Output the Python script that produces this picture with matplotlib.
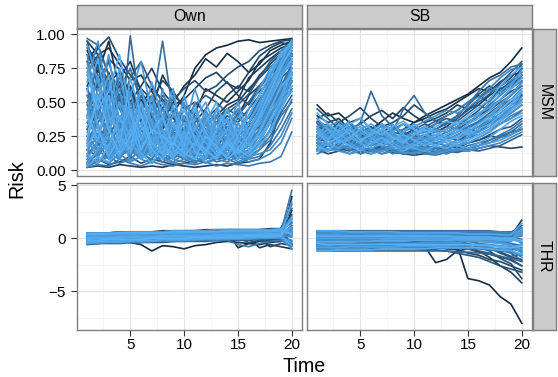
import numpy as np
import matplotlib.pyplot as plt
from matplotlib.colors import LinearSegmentedColormap

plt.rcParams['font.family'] = ['Liberation Sans', 'DejaVu Sans']

time = np.arange(1, 21)
col_labels = ['Own', 'SB']
row_labels = ['MSM', 'THR']

# MSM risk, in percent, one row per subject (dark -> light)
own_msm = [
    [88, 72, 95, 60, 45, 52, 38, 30, 42, 55, 75, 85, 90, 92, 95, 96, 94, 95, 96, 97],
    [80, 92, 70, 55, 62, 40, 48, 35, 50, 62, 70, 82, 76, 86, 80, 72, 78, 88, 92, 95],
    [95, 85, 90, 78, 66, 70, 58, 45, 38, 30, 42, 60, 55, 50, 58, 66, 80, 85, 90, 93],
    [70, 60, 82, 74, 55, 48, 60, 52, 44, 36, 28, 33, 40, 48, 52, 68, 75, 82, 88, 96],
    [62, 78, 55, 68, 80, 58, 45, 70, 55, 48, 40, 30, 26, 35, 40, 55, 62, 70, 78, 85],
    [2, 3, 2, 4, 3, 2, 3, 2, 4, 3, 2, 3, 4, 3, 5, 6, 8, 20, 45, 72],
    [90, 80, 65, 72, 50, 62, 75, 58, 48, 52, 60, 68, 72, 64, 60, 72, 84, 90, 94, 92],
    [55, 45, 60, 38, 50, 42, 30, 35, 28, 22, 30, 38, 45, 55, 62, 58, 70, 78, 86, 90],
    [75, 90, 98, 82, 70, 60, 52, 66, 58, 45, 50, 42, 38, 45, 50, 60, 68, 76, 82, 88],
    [40, 52, 35, 48, 30, 38, 25, 32, 40, 28, 35, 45, 58, 65, 55, 48, 60, 72, 80, 84],
    [5, 8, 4, 6, 10, 5, 8, 6, 4, 5, 7, 6, 8, 10, 12, 9, 15, 30, 55, 80],
    [85, 70, 58, 65, 48, 55, 40, 46, 52, 60, 66, 58, 62, 70, 76, 80, 88, 92, 95, 96],
    [60, 40, 72, 50, 35, 45, 55, 40, 30, 25, 20, 28, 35, 30, 42, 50, 58, 66, 75, 86],
    [92, 75, 50, 62, 40, 30, 45, 38, 25, 30, 18, 22, 30, 40, 35, 45, 55, 70, 82, 90],
    [30, 55, 42, 25, 60, 35, 28, 45, 32, 20, 26, 35, 25, 30, 38, 34, 48, 60, 72, 80],
    [48, 30, 25, 40, 22, 30, 18, 25, 35, 40, 32, 25, 20, 28, 22, 30, 40, 55, 68, 75],
    [20, 35, 50, 30, 45, 25, 38, 22, 28, 15, 22, 30, 18, 25, 20, 26, 35, 48, 62, 70],
    [72, 85, 60, 45, 68, 80, 62, 50, 42, 35, 48, 55, 50, 42, 48, 56, 68, 80, 88, 94],
    [10, 20, 15, 35, 25, 40, 30, 20, 15, 25, 18, 12, 20, 15, 18, 25, 32, 45, 58, 66],
    [35, 25, 45, 20, 30, 15, 22, 30, 20, 12, 15, 25, 30, 22, 28, 35, 45, 62, 78, 88],
    [95, 60, 80, 52, 36, 48, 32, 26, 34, 20, 28, 18, 24, 32, 26, 40, 52, 64, 76, 82],
    [15, 10, 22, 12, 18, 25, 15, 10, 18, 22, 12, 16, 10, 15, 20, 18, 28, 40, 52, 60],
    [50, 65, 38, 55, 42, 30, 50, 36, 22, 30, 40, 30, 22, 35, 45, 38, 50, 65, 80, 92],
    [25, 15, 30, 18, 12, 20, 35, 25, 12, 18, 10, 15, 12, 10, 15, 12, 20, 28, 42, 55],
    [80, 55, 40, 60, 75, 50, 40, 55, 45, 38, 30, 40, 35, 45, 40, 50, 62, 72, 85, 92],
    [97, 92, 70, 45, 30, 55, 40, 28, 20, 35, 25, 18, 28, 20, 25, 32, 42, 58, 72, 85],
    [5, 12, 30, 18, 99, 40, 25, 15, 10, 20, 12, 8, 15, 10, 12, 18, 25, 40, 55, 65],
    [8, 5, 15, 25, 12, 20, 45, 95, 40, 25, 15, 22, 12, 18, 10, 15, 22, 35, 48, 58],
    [40, 85, 60, 30, 20, 35, 25, 18, 30, 45, 28, 15, 22, 35, 25, 20, 30, 45, 62, 78],
    [12, 20, 8, 15, 30, 10, 18, 25, 12, 8, 18, 30, 15, 8, 12, 10, 15, 25, 40, 50],
    [3, 6, 10, 5, 8, 15, 6, 10, 20, 8, 5, 10, 6, 8, 5, 8, 10, 18, 30, 45],
    [30, 18, 40, 55, 28, 15, 22, 35, 20, 28, 40, 20, 12, 25, 18, 28, 38, 55, 70, 85],
    [60, 30, 20, 12, 25, 18, 10, 15, 28, 18, 10, 15, 25, 18, 30, 22, 35, 50, 65, 95],
    [18, 40, 25, 10, 15, 8, 20, 12, 8, 15, 22, 12, 8, 12, 8, 12, 18, 30, 45, 60],
    [2, 4, 3, 8, 5, 3, 6, 4, 3, 5, 4, 6, 3, 5, 4, 3, 5, 6, 10, 28],
    [45, 25, 12, 20, 10, 25, 15, 8, 12, 30, 20, 10, 18, 12, 20, 15, 25, 40, 58, 72],
    [22, 10, 35, 15, 40, 12, 8, 20, 15, 10, 8, 20, 35, 15, 10, 20, 30, 48, 62, 75],
    [6, 15, 8, 22, 10, 30, 12, 6, 10, 12, 6, 8, 12, 25, 15, 10, 15, 22, 35, 52],
    [35, 50, 22, 12, 18, 10, 28, 45, 25, 15, 20, 38, 20, 10, 22, 30, 42, 60, 75, 90],
    [10, 6, 12, 8, 20, 8, 5, 12, 8, 6, 10, 5, 8, 6, 10, 6, 8, 12, 20, 38],
    [55, 30, 15, 25, 12, 15, 10, 20, 35, 22, 12, 25, 15, 20, 15, 25, 35, 52, 70, 80],
    [15, 25, 48, 35, 20, 12, 18, 10, 6, 12, 25, 15, 10, 8, 15, 12, 20, 35, 50, 65],
    [4, 8, 5, 12, 6, 10, 15, 8, 5, 8, 12, 8, 20, 12, 6, 10, 12, 15, 25, 42],
    [28, 12, 20, 8, 35, 20, 12, 28, 18, 10, 6, 12, 8, 15, 28, 40, 55, 70, 82, 95],
    [50, 20, 65, 30, 15, 45, 20, 60, 25, 10, 35, 15, 40, 20, 12, 30, 25, 45, 60, 70],
    [85, 40, 25, 70, 35, 20, 55, 15, 30, 50, 20, 35, 10, 25, 45, 20, 35, 55, 68, 88],
    [10, 45, 20, 8, 50, 25, 10, 35, 55, 20, 8, 28, 45, 18, 8, 25, 45, 65, 80, 92],
    [65, 95, 45, 20, 38, 60, 30, 18, 42, 25, 50, 22, 15, 38, 25, 15, 30, 50, 72, 85],
    [25, 8, 40, 60, 20, 12, 38, 22, 8, 40, 18, 45, 25, 8, 35, 18, 28, 42, 55, 62],
    [38, 70, 30, 15, 55, 80, 42, 25, 15, 30, 60, 35, 20, 45, 30, 40, 55, 70, 88, 95],
    [8, 22, 12, 30, 6, 18, 35, 12, 25, 8, 15, 40, 18, 30, 12, 8, 15, 30, 48, 68],
    [70, 50, 85, 35, 58, 25, 15, 40, 20, 55, 30, 12, 35, 22, 40, 30, 42, 58, 75, 90],
    [15, 35, 8, 18, 42, 15, 55, 30, 12, 22, 45, 25, 10, 20, 35, 22, 40, 58, 72, 80],
    [92, 65, 35, 48, 20, 40, 22, 50, 32, 18, 12, 30, 22, 12, 20, 35, 50, 68, 85, 94],
    [45, 15, 28, 50, 35, 8, 25, 15, 42, 30, 15, 8, 28, 38, 18, 12, 20, 38, 55, 75],
    [20, 60, 45, 75, 30, 50, 18, 40, 60, 15, 38, 50, 30, 15, 25, 45, 60, 75, 85, 92],
    [5, 15, 25, 10, 22, 8, 14, 30, 10, 18, 8, 15, 25, 30, 20, 35, 48, 62, 78, 88],
    [78, 30, 15, 40, 25, 60, 35, 10, 25, 15, 30, 42, 20, 30, 50, 25, 35, 55, 70, 78],
    [32, 48, 70, 25, 12, 30, 65, 38, 18, 35, 25, 10, 45, 35, 15, 30, 45, 62, 80, 96],
    [12, 5, 18, 40, 15, 35, 10, 22, 48, 12, 32, 20, 12, 18, 30, 18, 25, 35, 50, 58],
    [58, 82, 40, 28, 45, 22, 48, 20, 10, 25, 18, 35, 50, 25, 12, 20, 38, 52, 68, 82],
    [3, 10, 6, 15, 30, 12, 5, 18, 8, 28, 14, 6, 10, 22, 8, 14, 22, 35, 52, 72],
    [40, 22, 55, 18, 68, 40, 20, 12, 35, 18, 45, 28, 15, 10, 25, 40, 55, 72, 86, 93],
    [18, 30, 10, 25, 15, 50, 28, 40, 15, 10, 20, 12, 30, 45, 22, 15, 28, 45, 62, 70],
    [72, 45, 58, 85, 42, 15, 30, 25, 18, 45, 22, 15, 8, 20, 12, 25, 40, 58, 76, 90],
    [25, 55, 30, 12, 25, 42, 15, 8, 20, 12, 8, 25, 18, 8, 15, 10, 18, 28, 45, 62],
]

sb_msm = [
    [48, 40, 42, 35, 38, 30, 36, 42, 38, 35, 40, 44, 48, 52, 56, 62, 68, 72, 80, 90],
    [35, 30, 28, 32, 25, 28, 22, 26, 30, 35, 38, 42, 45, 50, 55, 60, 58, 65, 70, 72],
    [25, 28, 22, 20, 24, 18, 22, 20, 18, 22, 25, 28, 32, 38, 45, 48, 55, 60, 62, 70],
    [40, 35, 38, 30, 34, 40, 44, 38, 46, 40, 35, 38, 42, 48, 45, 52, 60, 56, 65, 75],
    [20, 15, 18, 22, 16, 14, 18, 15, 12, 14, 16, 14, 18, 16, 20, 22, 25, 24, 28, 30],
    [30, 25, 32, 28, 26, 24, 28, 32, 28, 24, 26, 30, 35, 40, 48, 55, 50, 62, 68, 78],
    [15, 12, 14, 18, 12, 15, 12, 14, 12, 11, 12, 14, 12, 15, 14, 16, 18, 17, 16, 17],
    [38, 42, 35, 40, 46, 38, 32, 35, 40, 48, 42, 36, 40, 44, 50, 56, 62, 58, 66, 68],
    [28, 22, 25, 20, 22, 25, 20, 18, 22, 20, 24, 22, 26, 30, 35, 40, 45, 52, 58, 62],
    [22, 26, 20, 24, 28, 22, 25, 22, 20, 24, 20, 22, 24, 22, 26, 30, 35, 40, 45, 55],
    [32, 28, 35, 30, 25, 30, 34, 28, 26, 30, 34, 30, 28, 32, 38, 44, 52, 60, 64, 70],
    [18, 20, 16, 14, 18, 20, 16, 14, 16, 18, 14, 16, 15, 18, 20, 22, 26, 30, 32, 38],
    [45, 38, 30, 34, 28, 32, 26, 30, 34, 28, 30, 34, 38, 36, 42, 48, 44, 50, 55, 65],
    [26, 22, 28, 24, 20, 18, 22, 26, 24, 20, 18, 20, 22, 26, 30, 28, 34, 38, 42, 48],
    [36, 32, 28, 26, 30, 28, 24, 22, 26, 28, 32, 36, 34, 38, 44, 50, 56, 64, 72, 80],
    [14, 18, 15, 12, 14, 12, 15, 13, 12, 14, 13, 12, 14, 13, 15, 14, 16, 18, 22, 26],
    [24, 20, 22, 26, 22, 28, 24, 20, 22, 26, 22, 24, 28, 32, 30, 36, 42, 48, 52, 58],
    [30, 34, 26, 22, 25, 22, 20, 24, 20, 18, 22, 20, 18, 22, 24, 26, 30, 34, 38, 44],
    [20, 25, 30, 28, 35, 58, 40, 32, 28, 24, 20, 22, 25, 28, 32, 35, 40, 38, 45, 52],
    [28, 24, 20, 22, 18, 20, 24, 28, 45, 55, 42, 36, 32, 30, 34, 40, 48, 55, 62, 68],
    [18, 15, 20, 16, 14, 16, 18, 15, 14, 12, 14, 16, 14, 15, 18, 20, 22, 25, 28, 34],
    [34, 28, 24, 26, 22, 24, 20, 22, 24, 26, 28, 30, 34, 40, 48, 58, 66, 70, 76, 78],
    [22, 18, 24, 20, 25, 22, 18, 20, 18, 16, 18, 20, 22, 24, 28, 32, 38, 44, 50, 56],
    [16, 20, 18, 22, 18, 14, 16, 18, 15, 14, 12, 11, 13, 14, 16, 18, 22, 26, 30, 36],
    [25, 30, 26, 30, 28, 26, 30, 26, 22, 20, 24, 26, 24, 28, 32, 36, 40, 48, 55, 62],
    [30, 26, 22, 24, 20, 22, 25, 22, 18, 20, 18, 16, 18, 20, 24, 30, 38, 46, 52, 60],
    [12, 15, 18, 15, 12, 14, 16, 12, 14, 16, 12, 13, 15, 14, 16, 18, 20, 24, 26, 30],
    [24, 22, 26, 30, 34, 28, 24, 26, 30, 32, 28, 34, 40, 44, 50, 54, 60, 68, 74, 76],
    [20, 18, 15, 18, 20, 16, 14, 16, 18, 15, 16, 18, 16, 18, 20, 24, 28, 34, 40, 44],
    [35, 30, 32, 28, 26, 30, 28, 25, 24, 28, 30, 28, 30, 34, 38, 42, 46, 52, 60, 66],
    [15, 14, 16, 18, 16, 15, 12, 14, 12, 13, 15, 14, 12, 15, 14, 16, 18, 20, 24, 28],
    [22, 26, 22, 18, 20, 22, 26, 24, 20, 22, 24, 20, 22, 24, 26, 30, 34, 40, 46, 50],
    [28, 32, 36, 30, 26, 28, 32, 30, 28, 32, 36, 40, 44, 42, 46, 52, 58, 62, 66, 72],
    [18, 22, 20, 16, 18, 20, 18, 16, 20, 18, 16, 14, 16, 18, 22, 26, 30, 36, 42, 48],
    [26, 24, 28, 24, 22, 26, 22, 20, 22, 24, 22, 24, 22, 26, 28, 32, 36, 42, 48, 54],
    [14, 16, 14, 12, 15, 12, 14, 16, 13, 12, 14, 12, 14, 16, 14, 18, 20, 22, 26, 32],
    [20, 28, 24, 18, 26, 30, 22, 16, 24, 28, 20, 18, 22, 20, 24, 28, 32, 38, 45, 52],
    [32, 24, 30, 36, 28, 22, 30, 34, 26, 22, 26, 30, 28, 32, 36, 40, 50, 58, 64, 70],
    [16, 22, 28, 20, 16, 22, 30, 26, 18, 16, 20, 24, 20, 18, 20, 24, 28, 34, 38, 42],
    [26, 34, 22, 28, 32, 26, 20, 28, 34, 30, 22, 26, 30, 36, 34, 42, 46, 56, 62, 74],
    [22, 18, 26, 32, 24, 18, 24, 20, 16, 20, 26, 22, 18, 22, 28, 26, 30, 36, 44, 58],
    [38, 30, 26, 22, 30, 34, 28, 22, 28, 34, 28, 22, 26, 30, 28, 34, 40, 48, 56, 64],
    [14, 20, 16, 24, 20, 16, 20, 24, 22, 16, 14, 18, 22, 18, 16, 20, 24, 30, 36, 40],
    [30, 22, 34, 26, 20, 28, 34, 28, 22, 26, 32, 28, 24, 28, 34, 38, 44, 52, 60, 68],
    [24, 30, 20, 24, 30, 24, 18, 22, 26, 22, 18, 22, 26, 30, 26, 30, 34, 40, 48, 60],
    [18, 14, 22, 18, 14, 20, 24, 18, 14, 18, 22, 18, 16, 20, 22, 26, 30, 36, 44, 50],
    [42, 34, 28, 34, 38, 30, 26, 32, 36, 30, 26, 32, 36, 34, 40, 46, 52, 62, 70, 76],
    [28, 20, 24, 30, 22, 26, 30, 24, 20, 26, 30, 26, 22, 24, 30, 34, 38, 44, 52, 58],
]

# THR risk score, one row per subject (dark -> light)
own_thr = [
    [-0.2, -0.2, -0.3, -0.3, -0.4, -0.6, -1.2, -0.7, -0.8, -1.0, -0.7, -0.6, -0.4, -0.3, -0.4, -0.5, -0.6, -0.4, -0.3, 3.9],
    [0.3, 0.3, 0.4, 0.4, 0.4, 0.5, 0.5, 0.5, 0.6, 0.6, 0.6, 0.7, 0.7, 0.7, -0.9, -0.5, -0.3, -0.2, 0.0, 2.6],
    [-0.4, -0.4, -0.3, -0.3, -0.3, -0.2, -0.2, -0.2, -0.1, -0.1, -0.1, 0.0, 0.0, 0.0, 0.1, 0.0, -0.9, -0.6, -0.8, -1.0],
    [0.5, 0.5, 0.5, 0.6, 0.6, 0.6, 0.6, 0.7, 0.7, 0.7, 0.7, 0.8, 0.8, 0.8, 0.8, 0.8, 0.8, 0.9, 0.9, 3.2],
    [0.1, 0.1, 0.1, 0.2, 0.2, 0.2, 0.2, 0.3, 0.3, 0.3, 0.3, 0.3, 0.4, 0.4, 0.4, 0.4, 0.5, 0.5, 0.5, 1.8],
    [-0.5, -0.5, -0.4, -0.4, -0.4, -0.3, -0.3, -0.3, -0.3, -0.2, -0.2, -0.2, -0.2, -0.1, -0.1, -0.1, -0.1, -0.8, -0.5, -0.7],
    [0.2, 0.2, 0.3, 0.3, 0.3, 0.3, 0.4, 0.4, 0.4, 0.4, 0.5, 0.5, 0.5, 0.5, 0.6, 0.6, 0.6, 0.6, 0.7, 2.2],
    [-0.1, -0.1, 0.0, 0.0, 0.0, 0.0, 0.1, 0.1, 0.1, 0.1, 0.1, 0.2, 0.2, 0.2, 0.2, 0.3, 0.3, 0.3, 0.3, 1.2],
    [0.4, 0.4, 0.4, 0.4, 0.5, 0.5, 0.5, 0.5, 0.5, 0.6, 0.6, 0.6, 0.6, 0.6, 0.7, 0.7, 0.7, 0.7, 0.8, -0.6],
    [-0.3, -0.3, -0.2, -0.2, -0.2, -0.2, -0.1, -0.1, -0.1, -0.1, 0.0, 0.0, 0.0, 0.0, 0.0, -0.4, -0.2, -0.3, -0.2, 0.6],
    [0.3, 0.3, 0.3, 0.4, 0.4, 0.4, 0.4, 0.5, 0.5, 0.5, 0.5, 0.6, 0.6, 0.6, 0.6, 0.6, 0.7, 0.7, 0.7, 1.5],
    [-0.6, -0.5, -0.5, -0.5, -0.4, -0.4, -0.4, -0.4, -0.3, -0.3, -0.3, -0.3, -0.2, -0.2, -0.2, -0.2, -0.1, -0.1, -0.1, 0.3],
    [0.0, 0.0, 0.1, 0.1, 0.1, 0.1, 0.2, 0.2, 0.2, 0.2, 0.3, 0.3, 0.3, 0.3, 0.4, 0.4, 0.4, 0.4, 0.5, 0.9],
    [0.5, 0.5, 0.5, 0.5, 0.6, 0.6, 0.6, 0.6, 0.6, 0.7, 0.7, 0.7, 0.7, 0.8, 0.8, 0.8, 0.8, 0.8, 0.9, 2.8],
    [-0.2, -0.2, -0.2, -0.1, -0.1, -0.1, -0.1, 0.0, 0.0, 0.0, 0.0, 0.1, 0.1, 0.1, 0.1, 0.1, 0.2, 0.2, 0.2, -0.3],
    [0.2, 0.2, 0.2, 0.2, 0.3, 0.3, 0.3, 0.3, 0.3, 0.4, 0.4, 0.4, 0.4, 0.4, 0.5, 0.5, 0.5, 0.5, 0.5, 1.0],
    [-0.4, -0.4, -0.4, -0.3, -0.3, -0.3, -0.3, -0.3, -0.2, -0.2, -0.2, -0.2, -0.1, -0.1, -0.1, -0.1, -0.1, 0.0, 0.0, -0.5],
    [0.1, 0.1, 0.2, 0.2, 0.2, 0.2, 0.2, 0.3, 0.3, 0.3, 0.3, 0.4, 0.4, 0.4, 0.4, 0.4, 0.5, 0.5, 0.5, 0.4],
    [0.4, 0.4, 0.5, 0.5, 0.5, 0.5, 0.5, 0.6, 0.6, 0.6, 0.6, 0.7, 0.7, 0.7, 0.7, 0.7, 0.8, 0.8, 0.8, 0.6],
    [-0.1, -0.1, -0.1, 0.0, 0.0, 0.0, 0.0, 0.0, 0.1, 0.1, 0.1, 0.1, 0.1, 0.2, 0.2, 0.2, 0.2, 0.2, 0.3, 0.8],
    [0.3, 0.3, 0.3, 0.3, 0.4, 0.4, 0.4, 0.4, 0.4, 0.5, 0.5, 0.5, 0.5, 0.5, 0.6, 0.6, 0.6, 0.6, 0.6, 4.5],
    [-0.5, -0.5, -0.4, -0.4, -0.4, -0.4, -0.3, -0.3, -0.3, -0.3, -0.2, -0.2, -0.2, -0.2, -0.6, -0.8, -0.5, -0.3, -0.2, -0.8],
    [0.0, 0.1, 0.1, 0.1, 0.1, 0.2, 0.2, 0.2, 0.2, 0.2, 0.3, 0.3, 0.3, 0.3, 0.3, 0.4, 0.4, 0.4, 0.4, 0.2],
    [0.5, 0.5, 0.5, 0.6, 0.6, 0.6, 0.6, 0.6, 0.7, 0.7, 0.7, 0.7, 0.8, 0.8, 0.8, 0.7, 0.7, 0.8, 0.8, 1.4],
    [-0.3, -0.3, -0.3, -0.2, -0.2, -0.2, -0.2, -0.1, -0.1, -0.1, -0.1, 0.0, 0.0, 0.0, 0.0, 0.0, 0.1, 0.1, 0.1, -0.2],
    [0.2, 0.2, 0.2, 0.3, 0.3, 0.3, 0.3, 0.3, 0.4, 0.4, 0.4, 0.4, 0.5, 0.5, 0.5, 0.5, 0.5, 0.6, 0.6, 0.5],
    [-0.2, -0.1, -0.1, -0.1, -0.1, 0.0, 0.0, 0.0, 0.0, 0.1, 0.1, 0.1, 0.1, 0.1, 0.2, 0.2, 0.2, 0.2, 0.3, 0.1],
    [0.4, 0.4, 0.4, 0.4, 0.4, 0.5, 0.5, 0.5, 0.5, 0.5, 0.6, 0.6, 0.6, 0.6, 0.6, 0.7, 0.7, 0.7, 0.7, 2.0],
    [-0.4, -0.4, -0.3, -0.3, -0.3, -0.3, -0.3, -0.2, -0.2, -0.2, -0.2, -0.1, -0.1, -0.1, -0.1, -0.1, 0.0, 0.0, 0.0, -1.0],
    [0.1, 0.1, 0.1, 0.2, 0.2, 0.2, 0.2, 0.2, 0.3, 0.3, 0.3, 0.3, 0.3, 0.4, 0.4, 0.4, 0.4, 0.5, 0.5, 0.7],
    [-0.3, -0.3, -0.2, -0.2, -0.2, -0.1, -0.1, -0.1, 0.0, 0.0, 0.0, 0.1, 0.1, 0.1, 0.2, 0.2, 0.2, 0.3, 0.3, 0.6],
    [0.5, 0.5, 0.5, 0.5, 0.6, 0.6, 0.6, 0.6, 0.7, 0.7, 0.7, 0.7, 0.8, 0.8, 0.8, 0.8, 0.8, 0.8, 0.9, 1.6],
    [-0.5, -0.4, -0.4, -0.4, -0.3, -0.3, -0.3, -0.2, -0.2, -0.2, -0.1, -0.1, -0.1, 0.0, 0.0, 0.0, 0.1, 0.1, 0.1, -0.4],
    [0.1, 0.2, 0.2, 0.2, 0.2, 0.3, 0.3, 0.3, 0.3, 0.4, 0.4, 0.4, 0.4, 0.5, 0.5, 0.5, 0.5, 0.6, 0.6, 0.9],
    [-0.1, 0.0, 0.0, 0.0, 0.1, 0.1, 0.1, 0.1, 0.2, 0.2, 0.2, 0.2, 0.3, 0.3, 0.3, 0.3, 0.4, 0.4, 0.4, 1.1],
    [0.3, 0.3, 0.4, 0.4, 0.4, 0.4, 0.5, 0.5, 0.5, 0.5, 0.6, 0.6, 0.6, 0.6, 0.7, 0.7, 0.7, 0.7, 0.7, 0.5],
    [-0.4, -0.3, -0.3, -0.3, -0.2, -0.2, -0.2, -0.1, -0.1, -0.1, -0.1, 0.0, 0.0, 0.0, 0.0, 0.1, 0.1, 0.1, 0.2, -0.7],
    [0.0, 0.0, 0.0, 0.1, 0.1, 0.1, 0.1, 0.2, 0.2, 0.2, 0.2, 0.2, 0.3, 0.3, 0.3, 0.3, 0.3, 0.4, 0.4, 3.4],
    [0.4, 0.4, 0.4, 0.5, 0.5, 0.5, 0.5, 0.5, 0.6, 0.6, 0.6, 0.6, 0.6, 0.7, 0.7, 0.7, 0.7, 0.7, 0.8, 0.3],
    [-0.2, -0.2, -0.1, -0.1, -0.1, -0.1, 0.0, 0.0, 0.0, 0.0, 0.1, 0.1, 0.1, 0.1, 0.1, 0.2, 0.2, 0.2, 0.2, 1.9],
]

sb_thr = [
    [-0.5, -0.5, -0.5, -0.5, -0.5, -0.5, -0.5, -0.5, -0.5, -0.5, -0.5, -0.6, -0.6, -0.7, -3.8, -4.0, -4.4, -5.5, -6.2, -8.0],
    [-0.6, -0.6, -0.6, -0.6, -0.6, -0.6, -0.6, -0.6, -0.6, -0.6, -0.8, -2.3, -2.0, -1.2, -1.0, -1.3, -1.5, -1.8, -2.0, -2.6],
    [0.3, 0.3, 0.3, 0.3, 0.3, 0.3, 0.3, 0.3, 0.3, 0.3, 0.3, 0.3, 0.4, 0.5, 0.4, 0.3, 0.3, 0.3, 0.2, 1.7],
    [-0.2, -0.2, -0.2, -0.2, -0.2, -0.2, -0.2, -0.2, -0.2, -0.2, -0.3, -0.3, -0.4, -0.5, -0.8, -1.2, -1.8, -2.6, -3.2, -4.2],
    [-0.8, -0.8, -0.8, -0.8, -0.8, -0.8, -0.8, -0.8, -0.8, -0.8, -0.8, -0.9, -1.0, -1.1, -1.4, -1.6, -2.0, -2.2, -2.6, -3.0],
    [0.5, 0.5, 0.5, 0.5, 0.5, 0.5, 0.5, 0.5, 0.5, 0.5, 0.5, 0.5, 0.5, 0.5, 0.5, 0.5, 0.4, 0.4, 0.3, 0.6],
    [-0.1, -0.1, -0.1, -0.1, -0.1, -0.1, -0.1, -0.1, -0.1, -0.1, -0.1, -0.2, -0.2, -0.3, -0.5, -0.8, -1.2, -1.9, -2.4, -3.8],
    [0.1, 0.1, 0.1, 0.1, 0.1, 0.1, 0.1, 0.1, 0.1, 0.1, 0.1, 0.1, 0.1, 0.0, -0.2, -0.5, -0.9, -1.4, -1.8, -2.0],
    [-1.0, -1.0, -1.0, -1.0, -1.0, -1.0, -1.0, -1.0, -1.0, -1.0, -1.1, -1.1, -1.2, -1.4, -1.6, -1.8, -2.2, -2.6, -2.9, -3.2],
    [0.6, 0.6, 0.6, 0.6, 0.6, 0.6, 0.6, 0.6, 0.6, 0.6, 0.6, 0.6, 0.6, 0.6, 0.6, 0.6, 0.6, 0.5, 0.5, 1.2],
    [-0.3, -0.3, -0.3, -0.3, -0.3, -0.3, -0.3, -0.3, -0.3, -0.3, -0.3, -0.3, -0.4, -0.5, -0.6, -0.8, -1.0, -1.3, -1.7, -1.5],
    [0.2, 0.2, 0.2, 0.2, 0.2, 0.2, 0.2, 0.2, 0.2, 0.2, 0.2, 0.2, 0.2, 0.2, 0.2, 0.2, 0.1, 0.1, 0.1, 0.4],
    [-0.7, -0.7, -0.7, -0.7, -0.7, -0.7, -0.7, -0.7, -0.7, -0.7, -0.7, -0.8, -0.8, -0.9, -1.0, -1.2, -1.4, -1.7, -2.1, -2.6],
    [0.4, 0.4, 0.4, 0.4, 0.4, 0.4, 0.4, 0.4, 0.4, 0.4, 0.4, 0.4, 0.4, 0.4, 0.3, 0.3, 0.3, 0.3, 0.3, -0.4],
    [-0.4, -0.4, -0.4, -0.4, -0.4, -0.4, -0.4, -0.4, -0.4, -0.4, -0.4, -0.4, -0.4, -0.5, -0.6, -0.7, -0.9, -1.1, -1.4, -2.1],
    [0.0, 0.0, 0.0, 0.0, 0.0, 0.0, 0.0, 0.0, 0.0, 0.0, 0.0, 0.0, 0.0, 0.0, 0.0, -0.1, -0.2, -0.3, -0.5, -0.7],
    [-1.2, -1.2, -1.2, -1.2, -1.2, -1.2, -1.2, -1.2, -1.2, -1.2, -1.2, -1.2, -1.2, -1.3, -1.3, -1.4, -1.5, -1.7, -1.9, -2.2],
    [0.7, 0.7, 0.7, 0.7, 0.7, 0.7, 0.7, 0.7, 0.7, 0.7, 0.7, 0.7, 0.7, 0.7, 0.7, 0.7, 0.7, 0.6, 0.6, 0.9],
    [-0.6, -0.6, -0.6, -0.6, -0.6, -0.6, -0.6, -0.6, -0.6, -0.6, -0.5, -0.5, -0.4, 0.1, -0.3, -0.5, -0.6, -0.8, -1.0, -1.2],
    [0.3, 0.3, 0.3, 0.3, 0.3, 0.3, 0.3, 0.3, 0.3, 0.3, 0.3, 0.3, 0.3, 0.3, 0.3, 0.2, 0.2, 0.2, 0.1, -0.1],
    [-0.9, -0.9, -0.9, -0.9, -0.9, -0.9, -0.9, -0.9, -0.9, -0.9, -0.9, -0.9, -0.9, -0.9, -1.0, -1.0, -1.1, -1.2, -1.3, -1.6],
    [0.5, 0.5, 0.5, 0.5, 0.5, 0.5, 0.5, 0.5, 0.5, 0.5, 0.5, 0.5, 0.5, 0.5, 0.5, 0.5, 0.5, 0.5, 0.4, 1.0],
    [-0.2, -0.2, -0.2, -0.2, -0.2, -0.2, -0.2, -0.2, -0.2, -0.2, -0.2, -0.2, -0.1, -0.4, -0.2, -0.3, -0.3, -0.4, -0.5, -0.9],
    [0.1, 0.1, 0.1, 0.1, 0.1, 0.1, 0.1, 0.1, 0.1, 0.1, 0.1, 0.1, 0.1, 0.1, 0.1, 0.1, 0.1, 0.0, 0.0, 0.2],
    [-0.5, -0.5, -0.5, -0.5, -0.5, -0.5, -0.5, -0.5, -0.5, -0.5, -0.5, -0.5, -0.5, -0.5, -0.6, -0.6, -0.7, -0.8, -0.9, -1.3],
    [0.6, 0.6, 0.6, 0.6, 0.6, 0.6, 0.6, 0.6, 0.6, 0.6, 0.6, 0.6, 0.6, 0.6, 0.6, 0.6, 0.6, 0.6, 0.5, 0.3],
    [-0.8, -0.8, -0.8, -0.8, -0.8, -0.8, -0.8, -0.8, -0.8, -0.8, -0.8, -0.8, -0.8, -0.8, -0.8, -0.9, -0.9, -1.0, -1.1, -1.8],
    [0.2, 0.2, 0.2, 0.2, 0.2, 0.2, 0.2, 0.2, 0.2, 0.2, 0.2, 0.2, 0.2, 0.2, 0.2, 0.2, 0.2, 0.1, 0.1, -0.5],
    [-0.1, -0.1, -0.1, -0.1, -0.1, -0.1, -0.1, -0.1, -0.1, -0.1, -0.1, -0.1, -0.1, -0.1, -0.1, -0.1, -0.2, -0.2, -0.3, 0.5],
    [0.4, 0.4, 0.4, 0.4, 0.4, 0.4, 0.4, 0.4, 0.4, 0.4, 0.4, 0.4, 0.4, 0.4, 0.4, 0.4, 0.4, 0.4, 0.3, 0.8],
    [-1.1, -1.1, -1.0, -1.0, -1.0, -0.9, -0.9, -0.9, -0.8, -0.8, -0.8, -0.7, -0.7, -0.7, -0.6, -0.6, -0.6, -0.7, -0.8, -1.1],
    [0.6, 0.6, 0.5, 0.5, 0.5, 0.4, 0.4, 0.4, 0.3, 0.3, 0.3, 0.2, 0.2, 0.2, 0.1, 0.1, 0.0, -0.1, -0.2, 0.4],
    [-0.7, -0.7, -0.6, -0.6, -0.6, -0.6, -0.5, -0.5, -0.5, -0.5, -0.4, -0.4, -0.4, -0.4, -0.3, -0.3, -0.3, -0.4, -0.6, -1.4],
    [0.3, 0.3, 0.3, 0.2, 0.2, 0.2, 0.2, 0.1, 0.1, 0.1, 0.1, 0.0, 0.0, 0.0, 0.0, -0.1, -0.1, -0.2, -0.3, 0.7],
    [-0.4, -0.4, -0.4, -0.4, -0.3, -0.3, -0.3, -0.3, -0.3, -0.2, -0.2, -0.2, -0.2, -0.2, -0.2, -0.3, -0.4, -0.5, -0.7, -1.0],
    [0.0, 0.0, 0.0, 0.0, 0.0, 0.0, 0.0, 0.0, 0.0, 0.0, 0.0, 0.0, 0.0, 0.0, 0.0, 0.0, 0.0, -0.1, -0.1, 0.9],
    [-0.9, -0.9, -0.9, -0.8, -0.8, -0.8, -0.8, -0.8, -0.7, -0.7, -0.7, -0.7, -0.7, -0.6, -0.6, -0.6, -0.7, -0.8, -0.9, -0.6],
    [0.7, 0.7, 0.7, 0.6, 0.6, 0.6, 0.6, 0.6, 0.5, 0.5, 0.5, 0.5, 0.5, 0.5, 0.4, 0.4, 0.4, 0.3, 0.3, 1.4],
    [-0.3, -0.3, -0.3, -0.3, -0.3, -0.3, -0.2, -0.2, -0.2, -0.2, -0.2, -0.2, -0.2, -0.1, -0.1, -0.1, -0.1, -0.2, -0.2, -0.3],
    [-1.2, -1.2, -1.1, -1.1, -1.1, -1.1, -1.0, -1.0, -1.0, -1.0, -1.0, -0.9, -0.9, -0.9, -0.9, -0.9, -1.0, -1.1, -1.2, -1.5],
    [0.2, 0.2, 0.2, 0.2, 0.2, 0.2, 0.2, 0.2, 0.2, 0.2, 0.2, 0.2, 0.2, 0.1, 0.1, 0.1, 0.1, 0.0, 0.0, -0.2],
    [-0.5, -0.6, -0.6, -0.6, -0.6, -0.6, -0.6, -0.6, -0.6, -0.6, -0.6, -0.6, -0.6, -0.6, -0.6, -0.7, -0.7, -0.8, -0.9, -0.7],
]

x_ticks = [5, 10, 15, 20]
msm_ticks = [0.0, 0.25, 0.50, 0.75, 1.00]
msm_ticklabels = ['0.00', '0.25', '0.50', '0.75', '1.00']
thr_ticks = [-5, 0, 5]
thr_ticklabels = ['\u22125', '0', '5']

W, H = 558, 377
fig = plt.figure(figsize=(W / 100, H / 100), dpi=100)
cmap = LinearSegmentedColormap.from_list('gg', ['#132B43', '#336A98', '#56B1F7'])


def px_rect(x0, y0, x1, y1):
    return [x0 / W, 1 - y1 / H, (x1 - x0) / W, (y1 - y0) / H]


cols_px = [(77, 302), (307, 532)]
rows_px = [(29, 176), (183, 330)]

data = {
    ('Own', 'MSM'): np.array(own_msm) / 100,
    ('SB', 'MSM'): np.array(sb_msm) / 100,
    ('Own', 'THR'): np.array(own_thr),
    ('SB', 'THR'): np.array(sb_thr),
}
ylims = {'MSM': (-0.044, 1.04), 'THR': (-8.63, 5.19)}
yticks = {'MSM': (msm_ticks, msm_ticklabels, [0.125, 0.375, 0.625, 0.875]),
          'THR': (thr_ticks, thr_ticklabels, [-7.5, -2.5, 2.5])}

for r, row in enumerate(row_labels):
    for c, col in enumerate(col_labels):
        x0, x1 = cols_px[c]
        y0, y1 = rows_px[r]
        ax = fig.add_axes(px_rect(x0, y0, x1, y1))
        lines = data[(col, row)]
        n = len(lines)
        for i, ys in enumerate(lines):
            ax.plot(time, ys, color=cmap((i / (n - 1)) ** 0.75), lw=1.2)
        ax.set_xlim(0.05, 20.95)
        ax.set_ylim(*ylims[row])
        ticks, labels, minor = yticks[row]
        ax.set_xticks(x_ticks)
        ax.set_xticks([2.5, 7.5, 12.5, 17.5], minor=True)
        ax.set_yticks(ticks)
        ax.set_yticks(minor, minor=True)
        ax.grid(which='major', color='#E5E5E5', lw=0.8)
        ax.grid(which='minor', color='#F5F5F5', lw=0.8)
        ax.set_axisbelow(True)
        ax.tick_params(which='minor', length=0)
        ax.tick_params(which='major', length=4, width=0.8, color='#333333',
                       labelsize=11, labelcolor='black')
        ax.tick_params(axis='x', pad=2)
        ax.tick_params(axis='y', pad=4)
        if c == 0:
            ax.set_yticklabels(labels)
        else:
            ax.tick_params(axis='y', length=0, labelleft=False)
        if r == 1:
            ax.set_xticklabels([str(t) for t in x_ticks])
        else:
            ax.tick_params(axis='x', length=0, labelbottom=False)
        for s in ax.spines.values():
            s.set_color('#7F7F7F')
            s.set_linewidth(1.0)

# facet strips
for c, col in enumerate(col_labels):
    x0, x1 = cols_px[c]
    sax = fig.add_axes(px_rect(x0, 5, x1, 28))
    sax.set_facecolor('#CCCCCC')
    sax.set_xticks([])
    sax.set_yticks([])
    for s in sax.spines.values():
        s.set_color('#7F7F7F')
        s.set_linewidth(1.0)
    sax.text(0.5, 0.5, col, ha='center', va='center', fontsize=11.4,
             transform=sax.transAxes)

for r, row in enumerate(row_labels):
    y0, y1 = rows_px[r]
    sax = fig.add_axes(px_rect(533, y0, 556, y1))
    sax.set_facecolor('#CCCCCC')
    sax.set_xticks([])
    sax.set_yticks([])
    for s in sax.spines.values():
        s.set_color('#7F7F7F')
        s.set_linewidth(1.0)
    sax.text(0.5, 0.5, row, ha='center', va='center', fontsize=11.4,
             rotation=-90, transform=sax.transAxes)

fig.text(304.5 / W, 1 - 367 / H, 'Time', ha='center', va='center', fontsize=14.2)
fig.text(17 / W, 1 - 179 / H, 'Risk', ha='center', va='center', fontsize=14.2,
         rotation=90)

fig.savefig('out.png', dpi=100)
